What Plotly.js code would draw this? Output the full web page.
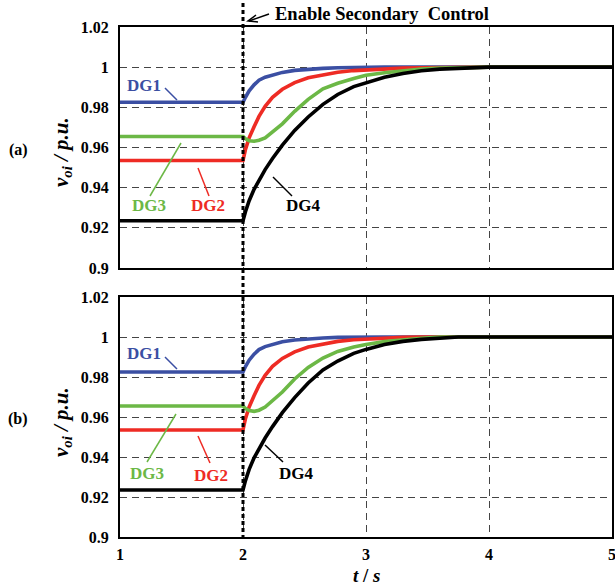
<!DOCTYPE html>
<html>
<head>
<meta charset="utf-8">
<script src="https://cdn.plot.ly/plotly-3.0.1.min.js"></script>
<style>html,body{margin:0;padding:0;background:#fff;}#chart{width:615px;height:585px;}</style>
</head>
<body>
<div id="chart"></div>
<script>
// time samples (s)
const t = [1, 2, 2.02, 2.05, 2.09, 2.13, 2.18, 2.24, 2.32, 2.42, 2.53, 2.65, 2.77, 2.9, 3.0, 3.15, 3.3, 3.45, 3.6, 3.75, 3.9, 4.0, 5];
// panel (a)
const dg1A = [0.9825,0.9825,0.9850,0.9882,0.9912,0.9935,0.9950,0.9962,0.9974,0.9984,0.9990,0.9994,0.9997,0.9999,1,1,1,1,1,1,1,1,1];
const dg2A = [0.9535,0.9535,0.9590,0.9648,0.9703,0.9755,0.9805,0.9850,0.9890,0.9923,0.9947,0.9963,0.9975,0.9983,0.9987,0.9992,0.9995,0.9997,0.9999,1,1,1,1];
const dg3A = [0.9655,0.9655,0.9643,0.9634,0.9631,0.9636,0.9648,0.9676,0.9718,0.9780,0.9840,0.9892,0.9920,0.9944,0.9960,0.9972,0.9983,0.9990,0.9995,0.9998,1,1,1];
const dg4A = [0.9235,0.9235,0.9280,0.9335,0.9392,0.9438,0.9490,0.9545,0.9612,0.9685,0.9752,0.9815,0.9864,0.9903,0.9922,0.9950,0.9968,0.9982,0.9990,0.9995,0.9998,1,1];
// panel (b)
const dg1B = [0.9825,0.9825,0.9852,0.9884,0.9914,0.9937,0.9952,0.9964,0.9976,0.9985,0.9991,0.9995,0.9998,1,1,1,1,1,1,1,1,1,1];
const dg2B = [0.9535,0.9535,0.9592,0.9650,0.9706,0.9758,0.9808,0.9853,0.9893,0.9926,0.9950,0.9966,0.9978,0.9986,0.9990,0.9995,0.9998,1,1,1,1,1,1];
const dg3B = [0.9655,0.9655,0.9642,0.9632,0.9628,0.9634,0.9650,0.9680,0.9725,0.9790,0.9848,0.9895,0.9928,0.9950,0.9963,0.9977,0.9987,0.9994,1,1,1,1,1];
const dg4B = [0.9235,0.9235,0.9282,0.9338,0.9396,0.9442,0.9495,0.9552,0.9622,0.9697,0.9770,0.9835,0.9880,0.9918,0.9938,0.9962,0.9978,0.9988,0.9995,1,1,1,1];

const xTicks = [1, 2, 3, 4, 5];
const yTicks = [0.9, 0.92, 0.94, 0.96, 0.98, 1, 1.02];
const yTickText = ['0.9', '0.92', '0.94', '0.96', '0.98', '1', '1.02'];

const C = {dg1: '#3b4fa3', dg2: '#ee2b24', dg3: '#6cb846', dg4: '#000000'};
const FAM = 'Liberation Serif, Times New Roman, serif';

function tr(y, color, xa, ya) {
  return {x: t, y: y, xaxis: xa, yaxis: ya, type: 'scatter', mode: 'lines',
          line: {color: color, width: 3.6}, hoverinfo: 'skip', showlegend: false};
}
const data = [
  tr(dg1A, C.dg1, 'x', 'y'), tr(dg2A, C.dg2, 'x', 'y'), tr(dg3A, C.dg3, 'x', 'y'), tr(dg4A, C.dg4, 'x', 'y'),
  tr(dg1B, C.dg1, 'x2', 'y2'), tr(dg2B, C.dg2, 'x2', 'y2'), tr(dg3B, C.dg3, 'x2', 'y2'), tr(dg4B, C.dg4, 'x2', 'y2')
];

// pixel -> paper helpers (plot area: x 120..612, y 27..537)
const L = 120, R = 3, T = 27, B = 48, W = 615, H = 585;
const pw = W - L - R, ph = H - T - B;
const px = v => (v - L) / pw;
const py = v => (H - B - v) / ph;

const tickFont = {family: FAM, size: 16, color: '#000', weight: 'bold'};
const gridCommon = {showgrid: true, gridcolor: '#444', gridwidth: 1, griddash: '7px,5px',
  showline: true, linecolor: '#000', linewidth: 2, mirror: true, zeroline: false,
  ticks: 'outside', ticklen: 6, tickcolor: 'rgba(0,0,0,0)', tickfont: tickFont, ticklabeloverflow: 'allow'};

const layout = {
  width: W, height: H, margin: {l: L, r: R, t: T, b: B},
  paper_bgcolor: '#fff', plot_bgcolor: '#fff', showlegend: false,
  xaxis: Object.assign({}, gridCommon, {domain: [0, 1], anchor: 'y', range: [1, 5], tickvals: xTicks, showticklabels: false}),
  yaxis: Object.assign({}, gridCommon, {domain: [py(268), 1], anchor: 'x', range: [0.9, 1.02], tickvals: yTicks, ticktext: yTickText}),
  xaxis2: Object.assign({}, gridCommon, {domain: [0, 1], anchor: 'y2', range: [1, 5], tickvals: xTicks, ticktext: xTicks.map(String), ticklen: 2}),
  yaxis2: Object.assign({}, gridCommon, {domain: [0, py(297)], anchor: 'x2', range: [0.9, 1.02], tickvals: yTicks, ticktext: yTickText}),
  shapes: [],
  annotations: []
};

// enable line at t = 2
layout.shapes.push({type: 'line', xref: 'x', yref: 'paper', x0: 2, x1: 2, y0: py(539), y1: py(3),
  line: {color: '#000', width: 3, dash: '4px,3px'}, layer: 'above'});

function lead(x0, y0, x1, y1, color) {
  layout.shapes.push({type: 'line', xref: 'paper', yref: 'paper', x0: px(x0), y0: py(y0), x1: px(x1), y1: py(y1),
    line: {color: color, width: 1.5}});
}
function lab(text, x, y, color, size) {
  layout.annotations.push({text: text, xref: 'paper', yref: 'paper', x: px(x), y: py(y), xanchor: 'center', yanchor: 'middle',
    showarrow: false, font: {family: FAM, size: size || 17, color: color, weight: 'bold'}});
}
// panel (a) labels
lab('DG1', 144, 85, C.dg1); lead(165, 88, 177, 100, C.dg1);
lab('DG3', 149, 205, C.dg3); lead(150, 196, 181, 143, C.dg3);
lab('DG2', 208, 205, C.dg2); lead(209, 196, 198, 168, C.dg2);
lab('DG4', 303, 205, C.dg4); lead(292, 196, 273, 177, C.dg4);
// panel (b) labels
lab('DG1', 144, 354, C.dg1); lead(165, 357, 177, 369, C.dg1);
lab('DG3', 147, 473, C.dg3); lead(147, 462, 176, 414, C.dg3);
lab('DG2', 211, 475, C.dg2); lead(210, 463, 198, 436, C.dg2);
lab('DG4', 296, 473, C.dg4); lead(283, 462, 265, 445, C.dg4);

// panel tags
lab('(a)', 18, 150, '#000', 16);
lab('(b)', 18, 419, '#000', 16);

// y titles
const yTitle = '<i>v</i><sub><i>oi</i></sub><i> / p.u.</i>';
[152, 422].forEach(function (yc) {
  layout.annotations.push({text: yTitle, xref: 'paper', yref: 'paper', x: px(62), y: py(yc), xanchor: 'center', yanchor: 'middle',
    textangle: -90, showarrow: false, font: {family: FAM, size: 21, color: '#000', weight: 'bold'}});
});
// x title
layout.annotations.push({text: '<i>t</i> / <i>s</i>', xref: 'paper', yref: 'paper', x: px(366), y: py(575),
  xanchor: 'center', yanchor: 'middle', showarrow: false, font: {family: FAM, size: 19, color: '#000', weight: 'bold'}});

// Enable Secondary Control
layout.annotations.push({text: 'Enable Secondary  Control', xref: 'paper', yref: 'paper', x: px(273), y: py(14),
  xanchor: 'left', yanchor: 'middle', showarrow: false, font: {family: FAM, size: 18.5, color: '#000', weight: 'bold'}});
layout.shapes.push({type: 'line', xref: 'paper', yref: 'paper', x0: px(269), y0: py(14), x1: px(249), y1: py(21),
  line: {color: '#000', width: 1.5}});
layout.shapes.push({type: 'path', xref: 'paper', yref: 'paper',
  path: 'M' + px(256) + ',' + py(15) + ' L' + px(248) + ',' + py(21) + ' L' + px(258) + ',' + py(22),
  line: {color: '#000', width: 1.5}});

Plotly.newPlot('chart', data, layout, {staticPlot: true, displayModeBar: false});
</script>
</body>
</html>
